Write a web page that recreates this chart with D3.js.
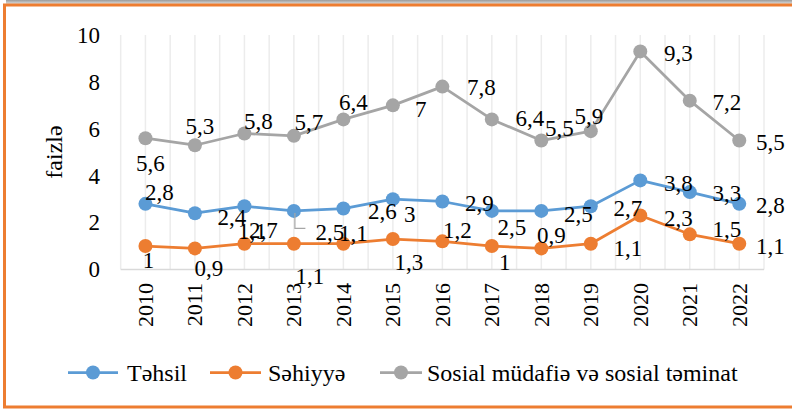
<!DOCTYPE html>
<html>
<head>
<meta charset="utf-8">
<script src="https://cdn.jsdelivr.net/npm/d3@7"></script>
<style>
  html, body { margin: 0; padding: 0; background: #fff; }
  svg { display: block; }
</style>
</head>
<body>
<script>
// Budget spending shares, faizlə
const years = ["2010", "2011", "2012", "2013", "2014", "2015", "2016", "2017", "2018", "2019", "2020", "2021", "2022"];
const tehsil = [2.8, 2.4, 2.7, 2.5, 2.6, 3, 2.9, 2.5, 2.5, 2.7, 3.8, 3.3, 2.8];
const sehiyye = [1, 0.9, 1.1, 1.1, 1.1, 1.3, 1.2, 1, 0.9, 1.1, 2.3, 1.5, 1.1];
const sosial = [5.6, 5.3, 5.8, 5.7, 6.4, 7, 7.8, 6.4, 5.5, 5.9, 9.3, 7.2, 5.5];
const yTicks = [0, 2, 4, 6, 8, 10];

// manual label placement (Excel-style hand-moved labels), offsets from the point
const tehsilLabelOff = [[14, -12], [37, 4], [19, 24], [36, 21], [39, 3], [17, 15], [37, 2], [20, 16], [37, 3], [37, 2], [38, 3], [37, 1], [31, 1]];
const sehiyyeLabelOff = [[3, 14], [14, 20], [8, -13], [16, 32], [10, -11], [16, 23], [15, -11], [13, 16], [10, -13], [37, 4], [38, 3], [37, -5], [31, 2]];
const sosialLabelOff = [[5, 25], [5, -19], [14, -12], [15, -14], [10, -17], [28, 4], [39, 1], [38, -1], [18, -12], [-2, -15], [38, 2], [37, 2], [31, 2]];

const series = [
  { name: "Təhsil", values: tehsil, color: "#5B9BD5", off: tehsilLabelOff },
  { name: "Səhiyyə", values: sehiyye, color: "#ED7D31", off: sehiyyeLabelOff },
  { name: "Sosial müdafiə və sosial təminat", values: sosial, color: "#A5A5A5", off: sosialLabelOff }
];

const W = 792, H = 409;
const plot = { left: 120.7, right: 764, top: 35, bottom: 269.5 };

const svg = d3.select("body").append("svg")
  .attr("width", W).attr("height", H);

// shadow at top + orange frame
const defs = svg.append("defs");
const grad = defs.append("linearGradient").attr("id", "shadow").attr("x1", 0).attr("y1", 0).attr("x2", 0).attr("y2", 1);
grad.append("stop").attr("offset", "0").attr("stop-color", "#9a9a9a");
grad.append("stop").attr("offset", "1").attr("stop-color", "#e0e0e0");
svg.append("rect").attr("x", 6).attr("y", 0).attr("width", W - 6).attr("height", 4).attr("fill", "url(#shadow)");
svg.append("path")
  .attr("d", `M${W},5 H4.5 V407`)
  .attr("fill", "none").attr("stroke", "#ED7D31").attr("stroke-width", 3);
svg.append("line")
  .attr("x1", 3).attr("x2", W).attr("y1", 407).attr("y2", 407)
  .attr("stroke", "#ED7D31").attr("stroke-width", 3);

const x = d3.scaleBand().domain(years).range([plot.left, plot.right]).padding(0);
const cx = d => x(d) + x.bandwidth() / 2;
const y = d3.scaleLinear().domain([0, 10]).range([plot.bottom, plot.top]);

// vertical gridlines at band edges and centers
const gridXs = [];
years.forEach(d => { gridXs.push(x(d)); gridXs.push(cx(d)); });
gridXs.push(plot.right);
svg.append("g").selectAll("line").data(gridXs).join("line")
  .attr("x1", d => d).attr("x2", d => d)
  .attr("y1", plot.top).attr("y2", plot.bottom)
  .attr("stroke", "#ececec").attr("stroke-width", 1.5);

// category axis line
svg.append("line")
  .attr("x1", plot.left).attr("x2", plot.right)
  .attr("y1", plot.bottom).attr("y2", plot.bottom)
  .attr("stroke", "#d9d9d9").attr("stroke-width", 1.5);

function label(size) {
  return sel => sel.attr("font-size", size)
    .style("font-family", "\"Liberation Serif\"")
    .attr("fill", "#000")
    .attr("dy", "0.34em");
}

// y tick labels
svg.append("g").selectAll("text").data(yTicks).join("text")
  .attr("x", 100).attr("y", d => y(d))
  .attr("text-anchor", "end")
  .call(label(23))
  .text(d => d);

// x tick labels (rotated)
svg.append("g").selectAll("text").data(years).join("text")
  .attr("transform", d => `translate(${cx(d)},283) rotate(-90)`)
  .attr("text-anchor", "end")
  .call(label(22))
  .text(d => d);

// y axis title
svg.append("text")
  .attr("transform", "translate(54,152) rotate(-90)")
  .attr("text-anchor", "middle")
  .call(label(24))
  .text("faizlə");

const line = d3.line().x((v, i) => cx(years[i])).y(v => y(v));

// lines + markers
series.forEach(s => {
  svg.append("path")
    .attr("d", line(s.values))
    .attr("fill", "none")
    .attr("stroke", s.color)
    .attr("stroke-width", 2.75)
    .attr("stroke-linejoin", "round");
  svg.append("g").selectAll("circle").data(s.values).join("circle")
    .attr("cx", (v, i) => cx(years[i]))
    .attr("cy", v => y(v))
    .attr("r", 7)
    .attr("fill", s.color);
});

// leader line for moved label (Təhsil 2013)
const lx = cx("2013"), ly = y(tehsil[3]);
svg.append("path")
  .attr("d", `M${lx + 1},${ly + 2} V${ly + 17.5} H${lx + 11.5}`)
  .attr("fill", "none").attr("stroke", "#a6a6a6").attr("stroke-width", 1.2);

// data labels
const fmt = v => String(v).replace(".", ",");
series.forEach(s => {
  svg.append("g").selectAll("text").data(s.values).join("text")
    .attr("x", (v, i) => cx(years[i]) + s.off[i][0])
    .attr("y", (v, i) => y(v) + s.off[i][1])
    .attr("text-anchor", "middle")
    .call(label(23))
    .text(fmt);
});

// legend
const legendItems = [
  { s: series[0], x0: 68, x1: 118, tx: 127 },
  { s: series[1], x0: 210, x1: 261, tx: 268 },
  { s: series[2], x0: 380, x1: 422, tx: 427 }
];
const ly0 = 372.5;
const lg = svg.append("g");
legendItems.forEach(it => {
  lg.append("line")
    .attr("x1", it.x0).attr("x2", it.x1)
    .attr("y1", ly0).attr("y2", ly0)
    .attr("stroke", it.s.color).attr("stroke-width", 2.75);
  lg.append("circle")
    .attr("cx", (it.x0 + it.x1) / 2).attr("cy", ly0).attr("r", 7)
    .attr("fill", it.s.color);
  lg.append("text")
    .attr("x", it.tx).attr("y", ly0)
    .call(label(24))
    .text(it.s.name);
});
</script>
</body>
</html>
